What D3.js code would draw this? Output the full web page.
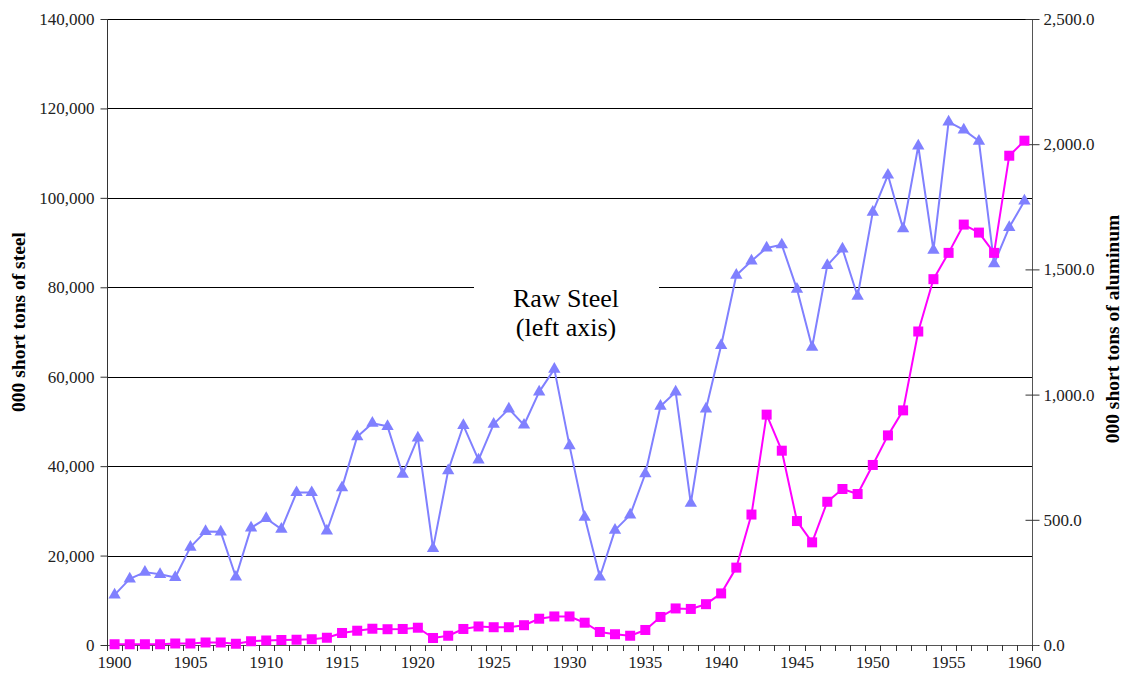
<!DOCTYPE html>
<html>
<head>
<meta charset="utf-8">
<script src="https://cdn.jsdelivr.net/npm/d3@7"></script>
<style>
  html, body { margin: 0; padding: 0; background: #fff; }
  svg { display: block; }
  svg text { font-family: "Liberation Serif", "Times New Roman", Times, serif; }
</style>
</head>
<body>
<svg id="chart" width="1122" height="677"></svg>
<script>
// US raw steel and primary aluminum production, 1900-1960 (thousand short tons)
const years = d3.range(1900, 1961);

const steel = [
  11200, 14800, 16300, 15800, 15100, 21900, 25400, 25300, 15200, 26200,
  28300, 25900, 34100, 34100, 25500, 35200, 46600, 49600, 48900, 38200,
  46300, 21600, 39000, 49100, 41400, 49400, 52800, 49200, 56600, 61700,
  44600, 28600, 15200, 25700, 29100, 38300, 53400, 56600, 31700, 52800,
  67000, 82700, 85900, 88800, 89500, 79600, 66600, 84900, 88600, 78000,
  96800, 105100, 93100, 111600, 88300, 117000, 115200, 112700, 85300, 93400,
  99300
];

const aluminum = [
  3, 3, 3, 3, 6, 6, 10, 10, 5, 15,
  18, 20, 21, 23, 29, 48, 57, 65, 63, 64,
  69, 28, 37, 64, 74, 71, 71, 79, 105, 114,
  114, 89, 52, 43, 37, 60, 112, 146, 144, 163,
  206, 309, 521, 920, 776, 495, 410, 572, 623, 603,
  719, 837, 937, 1252, 1461, 1566, 1679, 1647, 1566, 1954,
  2014
];

const steelTicks = [0, 20000, 40000, 60000, 80000, 100000, 120000, 140000];
const aluminumTicks = [0, 500, 1000, 1500, 2000, 2500];
const yearLabels = d3.range(1900, 1961, 5);

const serif = '"Liberation Serif", "Times New Roman", Times, serif';
const svg = d3.select("#chart");
const plot = { left: 107, right: 1032, top: 19, bottom: 645 };

const x = d3.scaleBand().domain(years).range([plot.left, plot.right]).padding(0);
const cx = yr => x(yr) + x.bandwidth() / 2;
const yL = d3.scaleLinear().domain([0, 140000]).range([plot.bottom, plot.top]);
const yR = d3.scaleLinear().domain([0, 2500]).range([plot.bottom, plot.top]);

const fmtL = d3.format(",");
const fmtR = d3.format(",.1f");

// Horizontal gridlines
svg.append("g")
  .selectAll("line")
  .data(steelTicks.slice(1))
  .join("line")
  .attr("x1", plot.left).attr("x2", plot.right)
  .attr("y1", d => Math.round(yL(d)) + 0.5).attr("y2", d => Math.round(yL(d)) + 0.5)
  .attr("stroke", "#000").attr("stroke-width", 1);

// Left axis
const leftAxis = svg.append("g")
  .attr("transform", `translate(${plot.left + 0.5},0)`)
  .call(d3.axisLeft(yL).tickValues(steelTicks).tickFormat(fmtL).tickSize(7).tickPadding(6));
leftAxis.attr("font-family", null).attr("font-size", null);
leftAxis.select(".domain").attr("stroke", "#333").attr("d", `M0,${plot.top}V${plot.bottom}`);
leftAxis.selectAll(".tick line").attr("stroke", "#333");
leftAxis.selectAll("text").style("font-size", "17px").style("font-family", serif).attr("fill", "#222");

// Right axis (ticks cross the axis line)
const rightAxis = svg.append("g")
  .attr("transform", `translate(${plot.right + 0.5},0)`)
  .call(d3.axisRight(yR).tickValues(aluminumTicks).tickFormat(fmtR).tickSize(7).tickPadding(4));
rightAxis.attr("font-family", null).attr("font-size", null);
rightAxis.select(".domain").attr("stroke", "#555").attr("d", `M0,${plot.top}V${plot.bottom}`);
rightAxis.selectAll(".tick line").attr("stroke", "#333").attr("x1", -7).attr("x2", 7);
rightAxis.selectAll("text").style("font-size", "17px").style("font-family", serif).attr("fill", "#222");

// Bottom axis: ticks on category boundaries, labels every five years
const bottom = svg.append("g");
bottom.append("line")
  .attr("x1", plot.left).attr("x2", plot.right + 6)
  .attr("y1", plot.bottom + 0.5).attr("y2", plot.bottom + 0.5)
  .attr("stroke", "#555");
const boundaries = years.map(yr => x(yr)).concat([plot.right]);
bottom.selectAll("line.tick")
  .data(boundaries)
  .join("line")
  .attr("class", "tick")
  .attr("x1", d => Math.round(d) + 0.5).attr("x2", d => Math.round(d) + 0.5)
  .attr("y1", plot.bottom).attr("y2", plot.bottom + 6)
  .attr("stroke", "#333");
bottom.selectAll("text")
  .data(yearLabels)
  .join("text")
  .attr("x", d => cx(d))
  .attr("y", plot.bottom + 23)
  .attr("text-anchor", "middle")
  .style("font-size", "17px").style("font-family", serif).attr("fill", "#222")
  .text(d => d);

// Axis titles
svg.append("text")
  .attr("transform", "translate(25,322) rotate(-90)")
  .attr("text-anchor", "middle")
  .style("font-size", "19.5px").style("font-weight", "bold").style("font-family", serif)
  .text("000 short tons of steel");
svg.append("text")
  .attr("transform", "translate(1119,329) rotate(-90)")
  .attr("text-anchor", "middle")
  .style("font-size", "19.5px").style("font-weight", "bold").style("font-family", serif)
  .text("000 short tons of aluminum");

// Series label with a white backing box over the gridline
const labelG = svg.append("g");
labelG.append("rect")
  .attr("x", 474).attr("y", 279).attr("width", 185).attr("height", 64)
  .attr("fill", "#fff");
labelG.append("text")
  .attr("x", 566).attr("y", 307)
  .attr("text-anchor", "middle")
  .style("font-size", "26px").style("font-family", serif)
  .text("Raw Steel");
labelG.append("text")
  .attr("x", 566).attr("y", 336)
  .attr("text-anchor", "middle")
  .style("font-size", "26px").style("font-family", serif)
  .text("(left axis)");

// Steel series: periwinkle line with triangle markers
const steelColor = "#8080FF";
svg.append("path")
  .datum(years.map((yr, i) => [cx(yr), yL(steel[i])]))
  .attr("fill", "none").attr("stroke", steelColor).attr("stroke-width", 2)
  .attr("stroke-linejoin", "round")
  .attr("d", d3.line());
const tri = d3.symbol().type(d3.symbolTriangle).size(66);
svg.append("g")
  .selectAll("path")
  .data(years)
  .join("path")
  .attr("transform", (yr, i) => `translate(${cx(yr)},${yL(steel[i])})`)
  .attr("d", tri)
  .attr("fill", steelColor);

// Aluminum series: magenta line with square markers
const aluColor = "#FF00FF";
svg.append("path")
  .datum(years.map((yr, i) => [cx(yr), yR(aluminum[i])]))
  .attr("fill", "none").attr("stroke", aluColor).attr("stroke-width", 2)
  .attr("stroke-linejoin", "round")
  .attr("d", d3.line());
svg.append("g")
  .selectAll("rect")
  .data(years)
  .join("rect")
  .attr("x", (yr) => cx(yr) - 5)
  .attr("y", (yr, i) => yR(aluminum[i]) - 5)
  .attr("width", 10).attr("height", 10)
  .attr("fill", aluColor);
</script>
</body>
</html>
